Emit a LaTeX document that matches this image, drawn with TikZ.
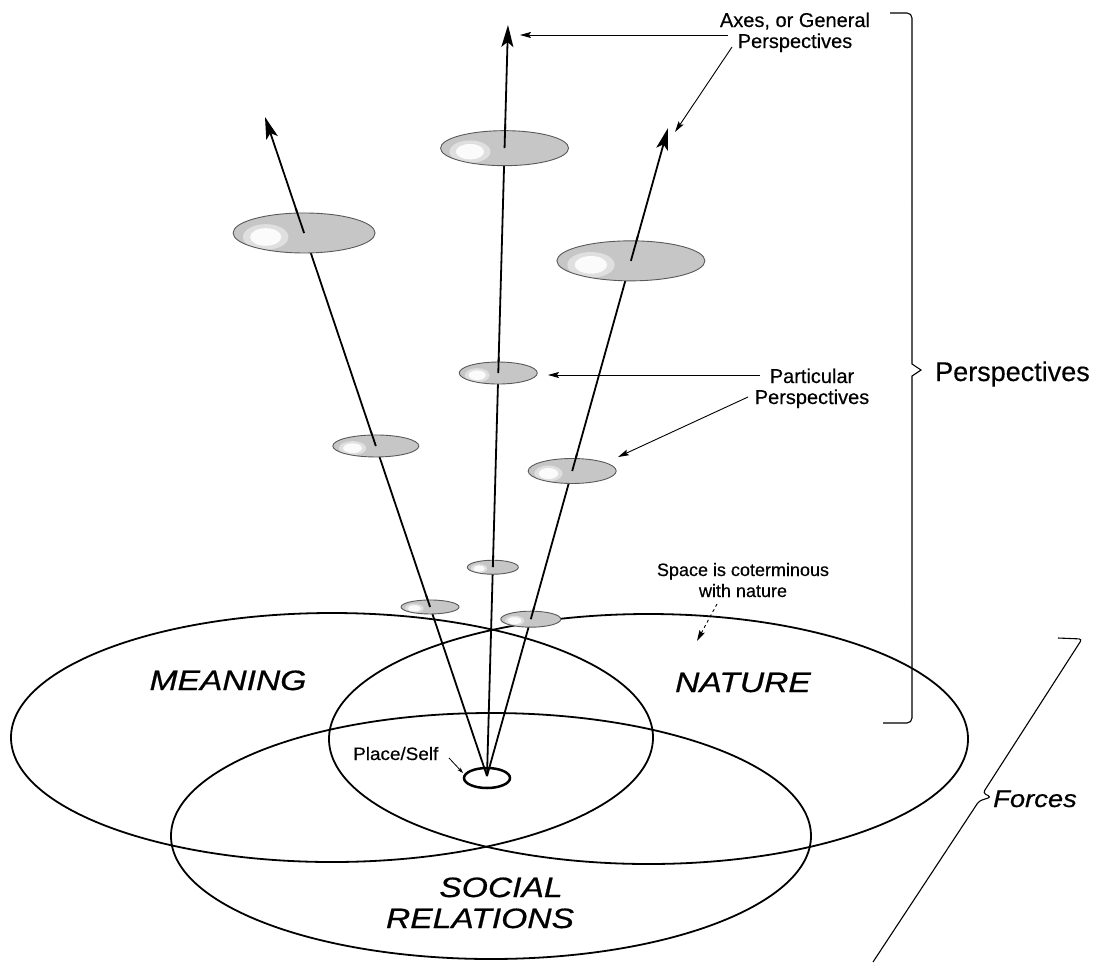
\documentclass[tikz,border=0pt]{standalone}
\usepackage{fontspec}
\setmainfont{Liberation Sans}
\newfontfamily\heavy[FakeBold=0.6]{Liberation Sans}
\newfontfamily\semi[FakeBold=0.35]{Liberation Sans}
\usetikzlibrary{arrows.meta,shapes.geometric,calc}
\begin{document}
\begin{tikzpicture}[x=1pt,y=-1pt,
  zone/.style={draw, line width=1.8pt, ellipse, inner sep=0pt},
  disk/.style={ellipse, draw=black!65, line width=0.9pt, fill=gray!45, inner sep=0pt,
    path picture={
      \fill[white,opacity=0.45] let \p1=($(path picture bounding box.east)-(path picture bounding box.west)$), \p2=($(path picture bounding box.north)-(path picture bounding box.south)$) in ($(path picture bounding box.center)+(-0.27*\x1,-0.1*\y2)$) ellipse [x radius=0.16*\x1, y radius=0.32*\y2];
      \fill[white,opacity=0.9] let \p1=($(path picture bounding box.east)-(path picture bounding box.west)$), \p2=($(path picture bounding box.north)-(path picture bounding box.south)$) in ($(path picture bounding box.center)+(-0.27*\x1,-0.1*\y2)$) ellipse [x radius=0.11*\x1, y radius=0.22*\y2];
    }},
  axis/.style={line width=1.8pt, -{Stealth[length=22pt,width=12pt,inset=5pt]}},
  seg/.style={line width=1.8pt},
  pointer/.style={line width=0.9pt, -{Stealth[length=11pt,width=6pt,inset=2pt]}},
  brace/.style={line width=1.1pt},
  lab/.style={inner sep=0pt, font=\fontsize{28}{30}\selectfont\heavy\itshape},
  note/.style={inner sep=0pt, font=\fontsize{20}{22}\selectfont\semi}
]
\useasboundingbox[fill=white] (0,0) rectangle (1101,962);

% the three force ellipses
\node[zone, minimum width=642, minimum height=249] (meaning) at (332,737.5) {};
\node[zone, minimum width=639, minimum height=250] (nature) at (648.5,739) {};
\node[zone, minimum width=640, minimum height=246] (social) at (491,836) {};

% place / self
\coordinate (apex) at (487,776);
\node[draw, ellipse, line width=2.5pt, minimum width=46, minimum height=20, inner sep=0pt] (self) at (487,778) {};

% axes
\coordinate (tipL) at (265,117);
\coordinate (tipC) at (508,25);
\coordinate (tipR) at (668,128);
\draw[axis] (apex) -- (tipL);
\draw[axis] (apex) -- (tipC);
\draw[axis] (apex) -- (tipR);

% discs (perspectives)
\node[disk, minimum width=58, minimum height=14] (dL1) at ($(apex)!0.2565!(tipL)$) {};
\node[disk, minimum width=86, minimum height=22] (dL2) at ($(apex)!0.5008!(tipL)$) {};
\node[disk, minimum width=142, minimum height=40] (dL3) at ($(apex)!0.824!(tipL)$) {};
\node[disk, minimum width=51, minimum height=14] (dC1) at ($(apex)!0.278!(tipC)$) {};
\node[disk, minimum width=78, minimum height=22] (dC2) at ($(apex)!0.5366!(tipC)$) {};
\node[disk, minimum width=128, minimum height=35] (dC3) at ($(apex)!0.836!(tipC)$) {};
\node[disk, minimum width=60, minimum height=16] (dR1) at ($(apex)!0.242!(tipR)$) {};
\node[disk, minimum width=88, minimum height=25] (dR2) at ($(apex)!0.4707!(tipR)$) {};
\node[disk, minimum width=148, minimum height=40] (dR3) at ($(apex)!0.795!(tipR)$) {};

% axis parts above the discs
\draw[seg] (dL1.center) -- ($(dL1.center)!12pt!(tipL)$);
\draw[seg] (dL2.center) -- ($(dL2.center)!16pt!(tipL)$);
\draw[seg] (dL3.center) -- ($(dL3.center)!26pt!(tipL)$);
\draw[seg] (dC1.center) -- ($(dC1.center)!12pt!(tipC)$);
\draw[seg] (dC2.center) -- ($(dC2.center)!16pt!(tipC)$);
\draw[seg] (dC3.center) -- ($(dC3.center)!24pt!(tipC)$);
\draw[seg] (dR1.center) -- ($(dR1.center)!13pt!(tipR)$);
\draw[seg] (dR2.center) -- ($(dR2.center)!18pt!(tipR)$);
\draw[seg] (dR3.center) -- ($(dR3.center)!26pt!(tipR)$);

% force labels
\node[lab, anchor=base] (tMeaning) at (228,690) {\scalebox{1.2}[1]{MEANING}};
\node[lab, anchor=base] (tNature) at (743,692) {\scalebox{1.2}[1]{NATURE}};
\node[lab, anchor=base] (tSocial) at (501,897) {\scalebox{1.2}[1]{SOCIAL}};
\node[lab, anchor=base] (tRelations) at (480,928) {\scalebox{1.2}[1]{RELATIONS}};

% place/self label
\node[inner sep=0pt, anchor=base west, font=\fontsize{18}{20}\selectfont\semi] (tSelf) at (353,760) {\scalebox{1.05}[1]{Place/Self}};
\coordinate (sA) at (449,758);
\coordinate (sB) at (463,773);
\draw[line width=0.8pt, -{Stealth[length=6pt,width=4pt]}] (sA) -- (sB);

% axes label
\node[note, anchor=base] (tAxes1) at (795,27) {Axes, or General};
\node[note, anchor=base] (tAxes2) at (795,48) {Perspectives};
\coordinate (a1s) at (728,35);
\coordinate (a1e) at (520,35);
\coordinate (a2s) at (732,47);
\coordinate (a2e) at (675,132);
\draw[pointer] (a1s) -- (a1e);
\draw[pointer] (a2s) -- (a2e);

% particular label
\node[note, anchor=base] (tPart1) at (812,383) {Particular};
\node[note, anchor=base] (tPart2) at (812,404) {Perspectives};
\coordinate (p1s) at (760,375);
\coordinate (p1e) at (548,375);
\coordinate (p2s) at (748,397);
\coordinate (p2e) at (618,457);
\draw[pointer] (p1s) -- (p1e);
\draw[pointer] (p2s) -- (p2e);

% space label
\node[inner sep=0pt, anchor=base, font=\fontsize{18}{20}\selectfont\semi] (tSpace1) at (743,576) {Space is coterminous};
\node[inner sep=0pt, anchor=base, font=\fontsize{18}{20}\selectfont\semi] (tSpace2) at (743,597) {with nature};
\coordinate (q1s) at (717,604);
\coordinate (q1e) at (697,641);
\draw[pointer, dashed] (q1s) -- (q1e);

% Perspectives brace
\draw[brace, rounded corners=5pt] (890,13) -- (912,13) -- (912,200);
\draw[brace] (912,200) -- (912,364) -- (921,370) -- (912,376) -- (912,600);
\draw[brace, rounded corners=5pt] (912,600) -- (912,723) -- (883,723);
\node[inner sep=0pt, anchor=base west, font=\fontsize{27}{30}\selectfont\semi] (tPersp) at (935,381) {Perspectives};

% Forces brace
\draw[brace, rounded corners=3pt] (1058,638) -- (1082,639) -- (983,793) -- (991,797) -- (979,801) -- (873,962);
\node[inner sep=0pt, anchor=base west, font=\fontsize{24}{26}\selectfont\heavy\itshape] (tForces) at (993,807) {\scalebox{1.14}[1]{Forces}};
\end{tikzpicture}
\end{document}
